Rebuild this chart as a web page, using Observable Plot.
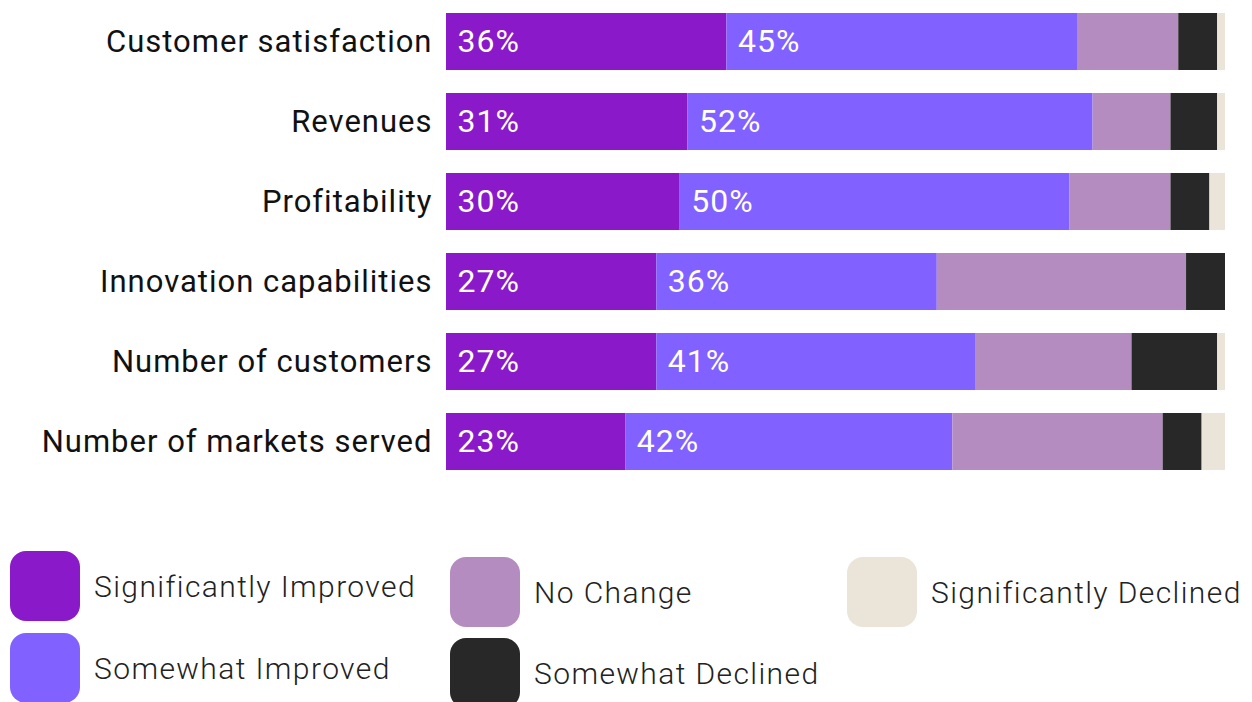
<!DOCTYPE html>
<html>
<head>
<meta charset="utf-8">
<script src="https://cdn.jsdelivr.net/npm/d3@7"></script>
<script src="https://cdn.jsdelivr.net/npm/@observablehq/plot@0.6"></script>
<style>
  html, body { margin: 0; padding: 0; background: #fff; }
  #wrap { position: relative; width: 1252px; height: 702px; overflow: hidden; font-family: Roboto, sans-serif; }
  #chart svg { display: block; }
  .legend { position: absolute; left: 0; top: 0; }
  .item { position: absolute; display: flex; align-items: center; height: 70px; }
  .sw { width: 70px; height: 70px; border-radius: 16px; flex: none; }
  .lbl { margin-left: 14px; font-size: 30px; font-weight: 300; color: #222; white-space: nowrap; letter-spacing: 1.4px; }
</style>
</head>
<body>
<div id="wrap">
  <div id="chart"></div>
  <div class="legend" id="legend"></div>
</div>
<script>
const categories = ["Customer satisfaction", "Revenues", "Profitability", "Innovation capabilities", "Number of customers", "Number of markets served"];
const seriesNames = ["Significantly Improved", "Somewhat Improved", "No Change", "Somewhat Declined", "Significantly Declined"];
const significantlyImproved = [36, 31, 30, 27, 27, 23];
const somewhatImproved      = [45, 52, 50, 36, 41, 42];
const noChange              = [13, 10, 13, 32, 20, 27];
const somewhatDeclined      = [5, 6, 5, 5, 11, 5];
const significantlyDeclined = [1, 1, 2, 0, 1, 3];
const colors = ["#8a19c9", "#8161ff", "#b48cbf", "#282828", "#ebe4d8"];

const seriesValues = [significantlyImproved, somewhatImproved, noChange, somewhatDeclined, significantlyDeclined];
const rows = [];
categories.forEach((c, i) => {
  seriesNames.forEach((s, j) => rows.push({category: c, series: s, value: seriesValues[j][i]}));
});
const labelRows = rows.filter(d => d.series === seriesNames[0] || d.series === seriesNames[1]);

const plot = Plot.plot({
  width: 1252,
  height: 480,
  marginLeft: 446,
  marginRight: 27,
  marginTop: 13,
  marginBottom: 10,
  style: {fontFamily: "Roboto, sans-serif", background: "#fff", letterSpacing: "1px"},
  x: {domain: [0, 100], axis: null},
  y: {domain: categories, paddingInner: 0.2875, paddingOuter: 0, label: null},
  color: {domain: seriesNames, range: colors},
  marks: [
    Plot.barX(rows, Plot.stackX({x: "value", y: "category", fill: "series", order: null})),
    Plot.text(labelRows, Plot.stackX1({x: "value", y: "category", z: "series", order: null,
      text: d => d.value + "%", textAnchor: "start", dx: 11, fill: "#fff", fontSize: 32})),
    Plot.axisY({tickSize: 0, tickPadding: 14, fontSize: 31, fill: "#111", label: null})
  ]
});
document.getElementById("chart").appendChild(plot);

// Legend
const legendPos = [
  {x: 10, y: 551}, {x: 10, y: 633},
  {x: 450, y: 557}, {x: 450, y: 638},
  {x: 847, y: 557}
];
const legend = document.getElementById("legend");
seriesNames.forEach((s, j) => {
  const it = document.createElement("div");
  it.className = "item";
  it.style.left = legendPos[j].x + "px";
  it.style.top = legendPos[j].y + "px";
  const sw = document.createElement("div");
  sw.className = "sw";
  sw.style.background = colors[j];
  const lb = document.createElement("div");
  lb.className = "lbl";
  lb.textContent = s;
  it.appendChild(sw);
  it.appendChild(lb);
  legend.appendChild(it);
});
</script>
</body>
</html>
